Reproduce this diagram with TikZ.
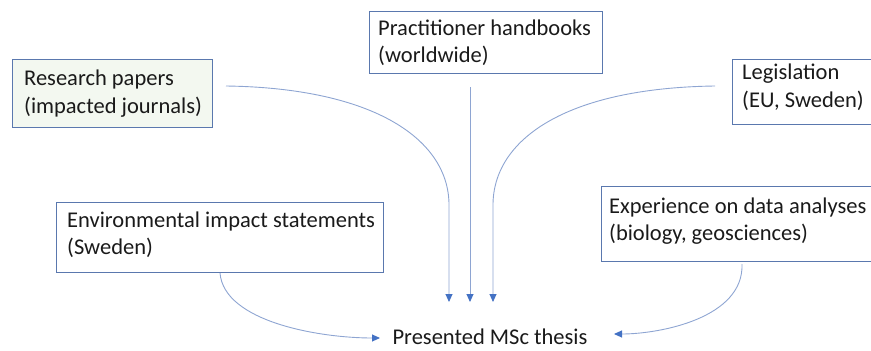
\documentclass[tikz,border=0pt]{standalone}
\usepackage{fontspec}
\setmainfont{Carlito}
\usetikzlibrary{arrows.meta,calc}
\definecolor{boxline}{HTML}{5A78AE}
\definecolor{conn}{HTML}{8EA5D2}
\definecolor{tipc}{HTML}{4472C4}
\definecolor{resfill}{HTML}{F3F8F0}
\definecolor{txt}{HTML}{1A1A1A}
\tikzset{
  srcbox/.style={draw=boxline, line width=1.1pt, anchor=north west, inner sep=0pt},
  srctext/.style={anchor=west, inner sep=0pt, align=left, text=txt, font=\fontsize{22.5}{27.5}\selectfont},
  conline/.style={draw=conn, line width=0.9pt, -{Triangle[length=8pt,width=7pt,fill=tipc,color=tipc]}}
}
\begin{document}
\begin{tikzpicture}[x=1pt,y=-1pt]
\useasboundingbox (0,0) rectangle (871,351);
\clip (0,0) rectangle (871,351);
% boxes
\node[srcbox, fill=resfill, minimum width=200pt, minimum height=68pt] (res) at (12,59) {};
\node[srcbox, minimum width=233pt, minimum height=62pt] (prac) at (369,11) {};
\node[srcbox, minimum width=170pt, minimum height=65pt] (leg) at (732,59) {};
\node[srcbox, minimum width=327pt, minimum height=70pt] (env) at (56,202) {};
\node[srcbox, minimum width=300pt, minimum height=75pt] (exp) at (601,186) {};
% texts
\node[srctext] (rest) at ($(res.west)+(12,0)$) {Research papers\\(impacted journals)};
\node[srctext] (pract) at ($(prac.west)+(9,0)$) {Practitioner handbooks\\(worldwide)};
\node[srctext] (legt) at ($(leg.west)+(10,-5)$) {Legislation\\(EU, Sweden)};
\node[srctext] (envt) at ($(env.west)+(11,-3)$) {Environmental impact statements\\(Sweden)};
\node[srctext] (expt) at ($(exp.west)+(8,-3)$) {Experience on data analyses\\(biology, geosciences)};
\node[text=txt, font=\fontsize{22.5}{27}\selectfont] (thesis) at (490,337) {Presented MSc thesis};
% connector end points
\coordinate (r0) at (226,86);
\coordinate (r1) at (449,302);
\coordinate (p0) at (470,87);
\coordinate (p1) at (470,302);
\coordinate (l0) at (715,86);
\coordinate (l1) at (493,302);
\coordinate (e0) at (220,273);
\coordinate (e1) at (380,338);
\coordinate (x0) at (742,264);
\coordinate (x1) at (614,334);
% connectors
\draw[conline] (r0) .. controls (375,88) and (449,140) .. (449,205) -- (r1);
\draw[conline] (p0) -- (p1);
\draw[conline] (l0) .. controls (565,88) and (493,140) .. (493,205) -- (l1);
\draw[conline] (e0) .. controls (224,322) and (320,338) .. (e1);
\draw[conline] (x0) .. controls (744,318) and (660,334) .. (x1);
\end{tikzpicture}
\end{document}
